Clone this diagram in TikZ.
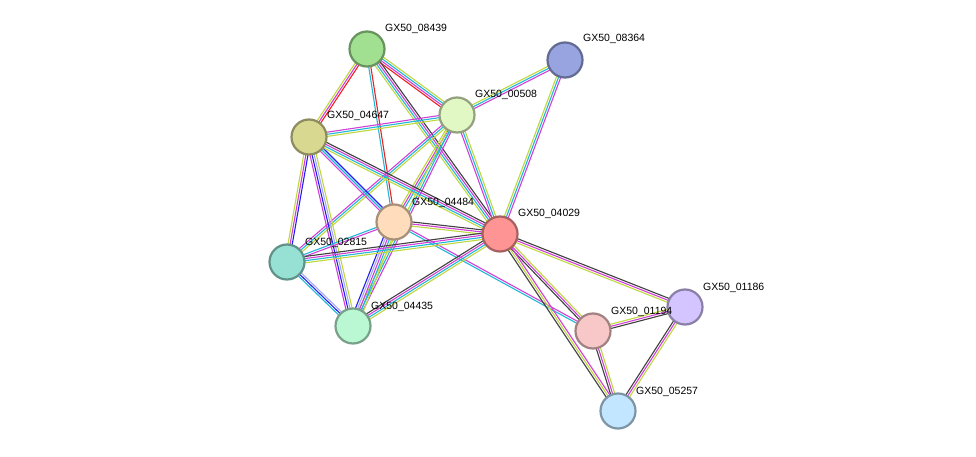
\documentclass[tikz,border=0pt]{standalone}
\usepackage{fontspec}
\setmainfont{Liberation Sans}
\usetikzlibrary{calc}
\pgfdeclarelayer{bg}\pgfsetlayers{bg,main}
\definecolor{cY}{HTML}{C0D840}\definecolor{cM}{HTML}{D040D8}\definecolor{cC}{HTML}{20B8D8}
\definecolor{cK}{HTML}{404040}\definecolor{cR}{HTML}{F02020}\definecolor{cB}{HTML}{2020F0}
\definecolor{cL}{HTML}{A8A8F8}
\definecolor{na}{HTML}{A0E090}\definecolor{nb}{HTML}{98A4E0}\definecolor{nc}{HTML}{E2F8C4}
\definecolor{nd}{HTML}{D8D890}\definecolor{ne}{HTML}{FFDDBC}\definecolor{nf}{HTML}{FF9494}
\definecolor{ng}{HTML}{96E0D4}\definecolor{nh}{HTML}{BAF8D4}\definecolor{ni}{HTML}{D4C4FF}
\definecolor{nj}{HTML}{F8C8C8}\definecolor{nk}{HTML}{C2E6FF}
\newcommand\medge[3]{%
 \foreach \c [count=\n] in {#3}{\xdef\nn{\n}}%
 \foreach \c [count=\i] in {#3}{%
  \pgfmathsetmacro\o{(\i-(\nn+1)/2)*2.1}%
  \draw[\c,line width=1.1pt] ($(#1.center)!\o pt!90:(#2.center)$) -- ($(#2.center)!\o pt!-90:(#1.center)$);}}
\tikzset{pn/.style={circle,minimum size=35pt,inner sep=0pt,line width=2.2pt,fill=#1,draw=#1!65!black},
 lb/.style={font=\fontsize{10.5pt}{11pt}\selectfont,anchor=base west,inner sep=1pt}}
\begin{document}
\begin{tikzpicture}[x=1pt,y=-1pt]
\useasboundingbox (0,0) rectangle (976,457);
\node[pn=na] (a) at (367,49) {};
\node[pn=nb] (b) at (565,60) {};
\node[pn=nc] (c) at (457,115) {};
\node[pn=nd] (d) at (309,137) {};
\node[pn=ne] (e) at (394,222) {};
\node[pn=nf] (f) at (500,234) {};
\node[pn=ng] (g) at (287,262) {};
\node[pn=nh] (h) at (353,326) {};
\node[pn=ni] (i) at (685,307) {};
\node[pn=nj] (j) at (593,331) {};
\node[pn=nk] (k) at (618,411) {};
\node[lb] (la) at (384,32) {GX50\_08439};
\node[lb] (lb2) at (582,42) {GX50\_08364};
\node[lb] (lc) at (474,98) {GX50\_00508};
\node[lb] (ld) at (326,119) {GX50\_04647};
\node[lb] (le) at (411,205) {GX50\_04484};
\node[lb] (lf) at (517,216) {GX50\_04029};
\node[lb] (lg) at (304,245) {GX50\_02815};
\node[lb] (lh) at (370,309) {GX50\_04435};
\node[lb] (li) at (702,290) {GX50\_01186};
\node[lb] (lj) at (610,314) {GX50\_01194};
\node[lb] (lk) at (635,394) {GX50\_05257};
\begin{pgfonlayer}{bg}
\fill[white] (0,0) rectangle (976,457);
\medge{a}{d}{cY,cM,cR}
\medge{a}{c}{cR,cM,cC,cY}
\medge{a}{e}{cC,cR}
\medge{a}{f}{cY,cC,cM,cK}
\medge{b}{c}{cY,cC,cM}
\medge{b}{f}{cY,cC,cM}
\medge{c}{d}{cM,cC,cY}
\medge{c}{e}{cY,cM,cC}
\medge{c}{f}{cM,cC,cY}
\medge{c}{g}{cM,cC,cY}
\medge{c}{h}{cY,cC,cM}
\medge{d}{e}{cM,cC,cB}
\medge{d}{f}{cY,cC,cM,cK}
\medge{d}{g}{cY,cM,cB}
\medge{d}{h}{cM,cB,cL,cY}
\medge{e}{f}{cY,cM,cK}
\medge{e}{g}{cC,cM}
\medge{e}{h}{cB,cL,cM,cC,cY}
\medge{e}{j}{cC,cM}
\medge{g}{f}{cY,cC,cM,cK}
\medge{g}{h}{cC,cB,cL}
\medge{h}{f}{cY,cC,cM,cK}
\medge{f}{i}{cY,cM,cK}
\medge{f}{j}{cK,cM,cY}
\medge{f}{k}{cK,cY,cM}
\medge{j}{i}{cK,cM,cY}
\medge{j}{k}{cK,cM,cY}
\medge{i}{k}{cK,cM,cY}
\end{pgfonlayer}
\end{tikzpicture}
\end{document}
